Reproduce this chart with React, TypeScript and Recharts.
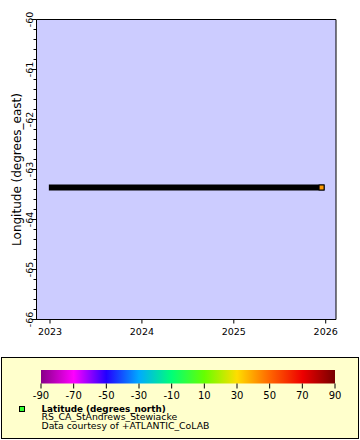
import React from "react";
import {
  ComposedChart,
  Line,
  Scatter,
  XAxis,
  YAxis,
  ReferenceArea,
} from "recharts";

const FONT = "'DejaVu Sans', sans-serif";

// station track: decimal year vs longitude
const times = [2023.02, 2025.955];
const longitudes = [-63.36, -63.36];

const xDomain = [2022.853, 2026.112];
const xTicks = [2023, 2024, 2025, 2026];
const yDomain = [-66, -60];
const yMajorTicks = [-66, -65, -64, -63, -62, -61, -60];
const yMinorPerMajor = 5;

// colour bar (latitude)
const cbTicks = [-90, -70, -50, -30, -10, 10, 30, 50, 70, 90];
const cbColors = [
  "#880088",
  "#FF00FF",
  "#2200FF",
  "#00AAFF",
  "#00FF77",
  "#66FF00",
  "#FFDD00",
  "#FF6600",
  "#EE0000",
  "#770000",
];

const legendTitle = "Latitude (degrees_north)";
const legendLines = ["RS_CA_StAndrews_Stewiacke", "Data courtesy of +ATLANTIC_CoLAB"];

const series = times.map((t, i) => ({ t, lon: longitudes[i] }));
const lastPoint = [series[series.length - 1]];

const yTicks: number[] = [];
yMajorTicks.forEach((m, i) => {
  if (i === 0) {
    yTicks.push(m);
    return;
  }
  const prev = yMajorTicks[i - 1];
  for (let k = 1; k <= yMinorPerMajor; k++) {
    yTicks.push(Math.round((prev + ((m - prev) * k) / yMinorPerMajor) * 10) / 10);
  }
});

const cbData = cbTicks.map((v) => ({ v, mid: 0.5 }));
const cbMin = cbTicks[0];
const cbMax = cbTicks[cbTicks.length - 1];

function LonTick(props: any) {
  const { x, y, payload } = props;
  const v = payload.value;
  const major = Math.abs(v - Math.round(v)) < 1e-6;
  const tx = x - 3.5;
  return (
    <g>
      <line x1={x - (major ? 5 : 3)} x2={x} y1={y} y2={y} stroke="#000" />
      {major && (
        <text
          x={tx}
          y={y}
          transform={`rotate(-90 ${tx} ${y})`}
          textAnchor="middle"
          fontSize={9.5}
          fontFamily={FONT}
          fill="#000"
        >
          {v}
        </text>
      )}
    </g>
  );
}

function OrangeSquare(props: any) {
  const { cx, cy } = props;
  return (
    <rect x={cx - 2.5} y={cy - 2.5} width={5} height={5} fill="#FF9900" stroke="#000" strokeWidth={1} />
  );
}

function YTitle(props: any) {
  const vb = props.viewBox;
  const cx = vb.x + 21;
  const cy = vb.y + vb.height / 2;
  return (
    <text
      x={cx}
      y={cy}
      transform={`rotate(-90 ${cx} ${cy})`}
      textAnchor="middle"
      fontSize={12}
      fontFamily={FONT}
      fill="#000"
    >
      Longitude (degrees_east)
    </text>
  );
}

export default function App() {
  return (
    <div style={{ position: "absolute", left: 0, top: 0, width: 360, height: 440, background: "#fff" }}>
      <svg width={360} height={440} style={{ position: "absolute", left: 0, top: 0 }}>
        <defs>
          <linearGradient id="cbGrad" x1="0" x2="1" y1="0" y2="0">
            {cbTicks.map((v, i) => (
              <stop key={v} offset={(v - cbMin) / (cbMax - cbMin)} stopColor={cbColors[i]} />
            ))}
          </linearGradient>
        </defs>
        <rect x={1.5} y={357.5} width={357} height={81} fill="#FFFFCC" stroke="#000" />
        <rect x={19.5} y={406.5} width={5} height={5} fill="#33FF33" stroke="#000" />
        <text x={41.5} y={411.5} fontSize={8.8} fontWeight="bold" fontFamily={FONT} fill="#000">
          {legendTitle}
        </text>
        {legendLines.map((s, i) => (
          <text key={s} x={41.5} y={420.3 + i * 9} fontSize={9.3} fontFamily={FONT} fill="#000">
            {s}
          </text>
        ))}
      </svg>

      <div style={{ position: "absolute", left: 0, top: 0 }}>
        <ComposedChart
          width={360}
          height={340}
          data={series}
          margin={{ top: 19.5, right: 24, left: 0, bottom: 0 }}
        >
          <XAxis
            dataKey="t"
            type="number"
            domain={xDomain}
            ticks={xTicks}
            allowDataOverflow
            height={20.5}
            tickSize={4}
            tickMargin={5}
            stroke="#000"
            tick={{ fontSize: 9.5, fill: "#000", fontFamily: FONT }}
          />
          <YAxis
            dataKey="lon"
            type="number"
            domain={yDomain}
            ticks={yTicks}
            allowDataOverflow
            interval={0}
            width={36.5}
            tickLine={false}
            tickSize={0}
            tickMargin={0}
            stroke="#000"
            tick={<LonTick />}
            label={{ content: (p: any) => <YTitle {...p} /> }}
          />
          <ReferenceArea
            x1={xDomain[0]}
            x2={xDomain[1]}
            y1={yDomain[0]}
            y2={yDomain[1]}
            fill="#CCCCFF"
            fillOpacity={1}
            stroke="#000"
          />
          <Line
            dataKey="lon"
            stroke="#000"
            strokeWidth={6}
            strokeLinecap="square"
            dot={false}
            isAnimationActive={false}
          />
          <Scatter data={lastPoint} dataKey="lon" shape={OrangeSquare} isAnimationActive={false} />
        </ComposedChart>
      </div>

      <div style={{ position: "absolute", left: 0, top: 366 }}>
        <ComposedChart
          width={360}
          height={38}
          data={cbData}
          margin={{ top: 4, right: 25, left: 41, bottom: 0 }}
        >
          <XAxis
            dataKey="v"
            type="number"
            domain={[cbMin, cbMax]}
            ticks={cbTicks}
            interval={0}
            axisLine={false}
            tickLine={{ stroke: "#000" }}
            height={20.5}
            tickSize={5}
            tickMargin={3}
            stroke="#000"
            tick={{ fontSize: 10, fill: "#000", fontFamily: FONT }}
          />
          <YAxis hide type="number" domain={[0, 1]} />
          <ReferenceArea
            x1={cbMin}
            x2={cbMax}
            y1={0}
            y2={1}
            fill="url(#cbGrad)"
            fillOpacity={1}
            stroke="none"
            ifOverflow="visible"
          />
          <Line dataKey="mid" stroke="none" dot={false} isAnimationActive={false} />
        </ComposedChart>
      </div>
    </div>
  );
}
